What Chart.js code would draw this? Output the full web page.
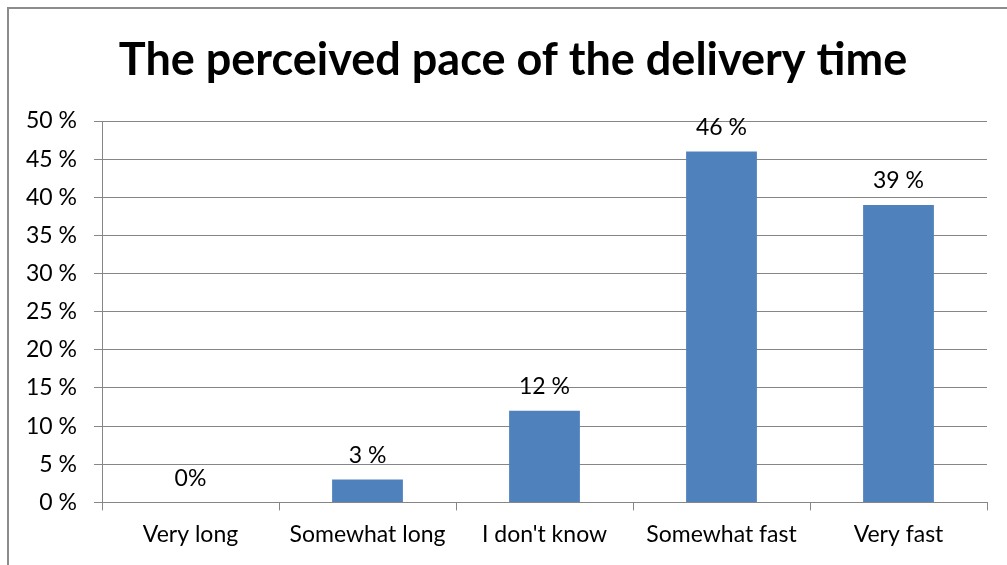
<!DOCTYPE html>
<html>
<head>
<meta charset="utf-8">
<script src="https://cdn.jsdelivr.net/npm/chart.js@4/dist/chart.umd.min.js"></script>
<style>
    body { margin: 0; background: #fff; }
    #wrap { position: relative; width: 1007px; height: 565px; overflow: hidden; }
    #frame { position: absolute; left: 7px; top: 7px; width: 1100px; height: 700px;
             border-left: 2px solid #8c8c8c; border-top: 2px solid #8c8c8c; }
    canvas { position: absolute; left: 0; top: 0; }
</style>
</head>
<body>
<div id="wrap">
    <div id="frame"></div>
    <canvas id="chart" width="1007" height="565"></canvas>
</div>
<script>
const chartTitle = 'The perceived pace of the delivery time';
const categories = ['Very long', 'Somewhat long', "I don't know", 'Somewhat fast', 'Very fast'];
const shares = [0, 3, 12, 46, 39];
const shareLabels = ['0%', '3 %', '12 %', '46 %', '39 %'];

const FONT = 'Lato, "Open Sans", sans-serif';
const GRID = '#868686';

// title is drawn by hand so it can sit off the plot centre like the original
const titleText = {
    id: 'titleText',
    afterDraw(chart) {
        const ctx = chart.ctx;
        ctx.save();
        ctx.font = `bold 45px ${FONT}`;
        ctx.fillStyle = '#000';
        ctx.textAlign = 'center';
        ctx.textBaseline = 'middle';
        ctx.fillText(chartTitle, 513, 60);
        ctx.restore();
    }
};

// draws the value text above every bar
const barLabels = {
    id: 'barLabels',
    afterDatasetsDraw(chart) {
        const ctx = chart.ctx;
        const meta = chart.getDatasetMeta(0);
        ctx.save();
        ctx.font = `23px ${FONT}`;
        ctx.fillStyle = '#000';
        ctx.textAlign = 'center';
        ctx.textBaseline = 'middle';
        meta.data.forEach((bar, i) => {
            ctx.fillText(shareLabels[i], bar.x, bar.y - 24);
        });
        ctx.restore();
    }
};

const chart = new Chart(document.getElementById('chart'), {
    type: 'bar',
    data: {
        labels: categories,
        datasets: [{
            label: 'Share',
            data: shares,
            backgroundColor: '#4f81bd',
            borderWidth: 0,
            barPercentage: 0.4,
            categoryPercentage: 1
        }]
    },
    plugins: [barLabels, titleText],
    options: {
        responsive: false,
        animation: false,
        devicePixelRatio: 1,
        layout: { padding: { left: 8, right: 20, top: 121, bottom: 7 } },
        plugins: {
            legend: { display: false },
            tooltip: { enabled: false },
            title: { display: false }
        },
        scales: {
            x: {
                grid: { drawOnChartArea: false, drawTicks: true, tickLength: 8, color: GRID, offset: true },
                border: { display: true, color: GRID, width: 1 },
                ticks: { color: '#000', font: { family: FONT, size: 23 }, padding: 10, maxRotation: 0 }
            },
            y: {
                min: 0,
                max: 50,
                afterFit: (scale) => { scale.width = 94; },
                grid: { color: GRID, lineWidth: 1, tickLength: 8 },
                border: { display: true, color: GRID, width: 1 },
                ticks: {
                    stepSize: 5,
                    color: '#000',
                    padding: 17,
                    font: { family: FONT, size: 23 },
                    callback: (v) => `${v} %`
                }
            }
        }
    }
});
</script>
</body>
</html>
